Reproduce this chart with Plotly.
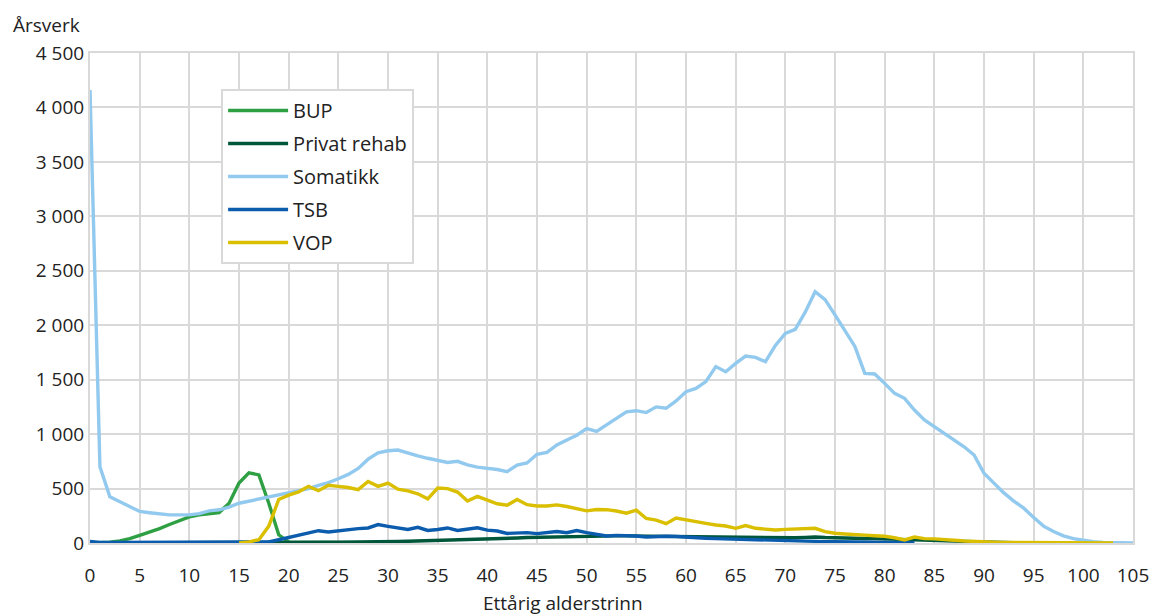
import plotly.graph_objects as go

ages_somatikk = list(range(0, 106))
somatikk = [4160, 700, 425, 380, 335, 290, 278, 270, 258, 258,
            258, 270, 295, 305, 330, 365, 385, 398, 420, 445,
            460, 478, 500, 530, 555, 590, 630, 685, 770, 828,
            847, 854, 823, 800, 778, 757, 740, 750, 718, 697,
            687, 675, 656, 716, 735, 815, 833, 900, 945, 990,
            1050, 1025, 1085, 1145, 1205, 1215, 1198, 1250, 1237, 1305,
            1390, 1420, 1482, 1620, 1573, 1650, 1717, 1705, 1665, 1815,
            1925, 1962, 2120, 2308, 2235, 2095, 1955, 1805, 1558, 1552,
            1466, 1374, 1329, 1221, 1130, 1068, 1001, 946, 884, 808,
            640, 550, 460, 385, 320, 235, 155, 105, 65, 40,
            25, 12, 6, 3, 1, 0]

ages_bup = list(range(0, 28))
bup = [0, 2, 8, 20, 40, 70, 100, 132, 170, 205,
       240, 258, 272, 280, 365, 550, 645, 625, 365, 75,
       8, 5, 4, 4, 5, 4, 3, 2]

ages_vop = list(range(15, 104))
vop = [0, 10, 30, 155, 400, 440, 470, 520, 480, 530,
       520, 510, 490, 565, 520, 550, 495, 478, 452, 406,
       505, 500, 468, 385, 428, 393, 360, 347, 400, 352,
       340, 340, 350, 335, 316, 295, 308, 306, 294, 274,
       302, 225, 210, 178, 230, 211, 196, 180, 165, 156,
       135, 160, 135, 126, 119, 125, 126, 133, 135, 105,
       90, 83, 80, 72, 66, 62, 48, 28, 55, 40,
       38, 34, 25, 18, 12, 9, 7, 5, 4, 3,
       3, 2, 2, 1, 1, 1, 1, 0, 0]

ages_tsb = list(range(0, 84))
tsb = [15, 5, 5, 5, 4, 4, 4, 4, 4, 4,
       4, 4, 4, 4, 4, 4, 4, 5, 10, 30,
       52, 75, 92, 113, 101, 113, 122, 132, 138, 169,
       153, 138, 124, 144, 115, 124, 138, 115, 124, 140,
       118, 110, 88, 95, 95, 86, 95, 105, 95, 115,
       95, 80, 64, 70, 70, 64, 55, 60, 62, 60,
       52, 45, 43, 40, 37, 34, 32, 28, 25, 22,
       18, 16, 15, 14, 13, 12, 10, 9, 8, 7,
       6, 5, 4, 3]

ages_rehab = list(range(0, 97))
rehab = [0, 0, 0, 0, 0, 0, 0, 0, 0, 0,
         0, 0, 0, 0, 1, 1, 1, 2, 2, 3,
         4, 5, 5, 6, 7, 8, 8, 9, 9, 9,
         12, 14, 16, 18, 21, 24, 26, 28, 32, 36,
         38, 40, 42, 46, 50, 52, 56, 60, 62, 62,
         62, 63, 64, 65, 65, 64, 62, 60, 58, 58,
         58, 56, 55, 52, 50, 48, 46, 45, 45, 44,
         44, 48, 52, 55, 50, 46, 45, 44, 42, 40,
         38, 36, 34, 32, 28, 25, 22, 18, 15, 12,
         8, 6, 4, 3, 2, 1, 0]

x_ticks = list(range(0, 106, 5))
y_ticks = list(range(0, 4501, 500))

series = [
    ("BUP", ages_bup, bup, "#2ea043"),
    ("Privat rehab", ages_rehab, rehab, "#00563a"),
    ("Somatikk", ages_somatikk, somatikk, "#92c9ee"),
    ("TSB", ages_tsb, tsb, "#0b5cad"),
    ("VOP", ages_vop, vop, "#d9bf00"),
]

fig = go.Figure()
for name, xs, ys, col in series:
    fig.add_trace(go.Scatter(x=xs, y=ys, mode="lines", name=name,
                             legendgroup=name,
                             line=dict(color=col, width=3.4)))

font_family = "Open Sans"
grid = "#d9d9d9"

fig.update_layout(
    width=1161, height=615,
    margin=dict(l=90, r=21, t=53, b=72),
    paper_bgcolor="white", plot_bgcolor="white",
    separators=", ",
    font=dict(family=font_family, size=19, color="#222222"),
    showlegend=True,
    legend=dict(x=0.1257, y=0.9265, xanchor="left", yanchor="top",
                bgcolor="white", bordercolor=grid, borderwidth=2,
                font=dict(size=20), tracegroupgap=4, itemwidth=60),
    xaxis=dict(range=[0, 105], tickvals=x_ticks, showgrid=True,
               gridcolor=grid, gridwidth=2, zeroline=False,
               showline=True, linecolor=grid, linewidth=2, mirror=True,
               ticks="", ticklabelstandoff=14, tickfont=dict(size=19)),
    yaxis=dict(range=[0, 4500], tickvals=y_ticks, showgrid=True,
               gridcolor=grid, gridwidth=2, zeroline=False,
               showline=True, linecolor=grid, linewidth=2, mirror=True,
               ticks="", separatethousands=True, tickformat=",d",
               tickfont=dict(size=19)),
    annotations=[
        dict(text="Årsverk", x=-0.0762, y=1.057, xref="paper", yref="paper",
             xanchor="left", yanchor="middle", showarrow=False,
             font=dict(size=19)),
        dict(text="Ettårig alderstrinn", x=0.4533, y=-0.1224, xref="paper",
             yref="paper", xanchor="center", yanchor="middle", showarrow=False,
             font=dict(size=19)),
    ],
)

fig.write_html("out.html",
               config={"displayModeBar": False},
               post_script="document.body.style.margin='0';document.body.style.overflow='hidden';")
